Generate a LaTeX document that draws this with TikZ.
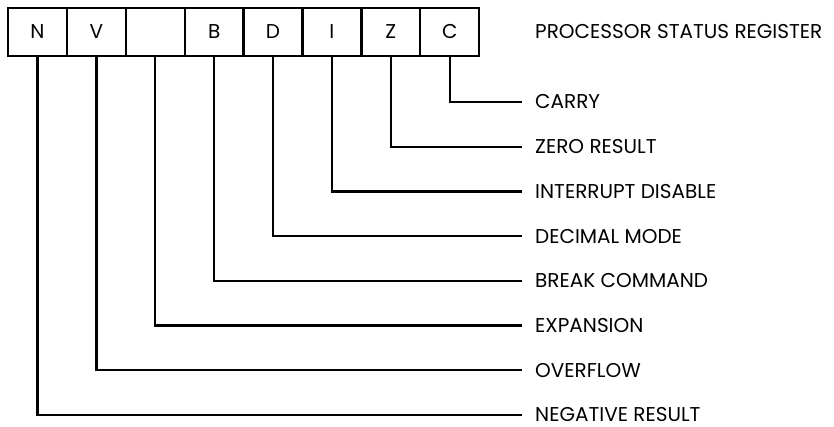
\documentclass[tikz,border=0pt]{standalone}
\usepackage{fontspec}
\setmainfont{Poppins}
\begin{document}
\begin{tikzpicture}[x=1pt,y=-1pt,
  reg/.style={draw,line width=2.3pt,minimum width=58.9pt,minimum height=48pt,inner sep=0pt,font=\fontsize{20}{20}\selectfont},
  lab/.style={anchor=west,inner sep=0pt,text height=14pt,text depth=0pt,font=\fontsize{20}{20}\selectfont},
  wire/.style={line width=2.3pt}]
\useasboundingbox (0,0) rectangle (834,427);
\foreach \t [count=\i] in {N,V,{},B,D,I,Z,C} {
  \node[reg] (b\i) at ({8+58.9*(\i-0.5)},32) {\t};
}
\node[lab] (title) at (535,32) {PROCESSOR STATUS REGISTER};
\foreach \t [count=\i] in {CARRY,ZERO RESULT,INTERRUPT DISABLE,DECIMAL MODE,BREAK COMMAND,EXPANSION,OVERFLOW,NEGATIVE RESULT} {
  \node[lab] (l\i) at (535,{102+44.7*(\i-1)}) {\t};
}
\foreach \i [evaluate=\i as \j using int(9-\i)] in {1,...,8} {
  \draw[wire] (b\j.south) |- ([xshift=-13pt]l\i.west);
}
\end{tikzpicture}
\end{document}
